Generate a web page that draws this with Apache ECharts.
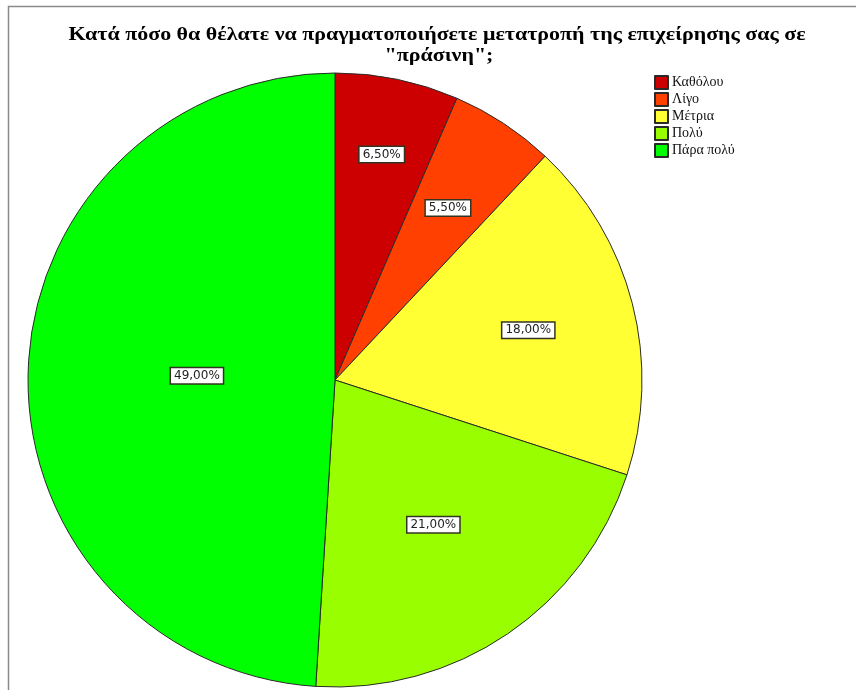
<!DOCTYPE html>
<html>
<head>
<meta charset="utf-8">
<script src="https://cdn.jsdelivr.net/npm/echarts@6/dist/echarts.min.js"></script>
<style>
  html, body { margin: 0; padding: 0; background: #fff; }
  #pie { width: 856px; height: 690px; }
</style>
</head>
<body>
<div id="pie"></div>
<script>
// δεδομένα του γραφήματος
var categories = ['Καθόλου', 'Λίγο', 'Μέτρια', 'Πολύ', 'Πάρα πολύ'];
var percents = [6.5, 5.5, 18.0, 21.0, 49.0];
var colors = ['#cc0000', '#ff4000', '#ffff33', '#99ff00', '#00ff00'];

// θέση της πίτας και απόσταση ετικετών (κλάσμα της ακτίνας)
var cx = 335, cy = 380, radius = 307;
var labelDist = [0.75, 0.67, 0.65, 0.57, 0.45];

var total = 0;
percents.forEach(function (v) { total += v; });

var pieData = [];
categories.forEach(function (name, i) {
  pieData.push({ name: name, value: percents[i], itemStyle: { color: colors[i] } });
});

var titleFont = 'bold 18px "Liberation Serif", serif';

var pie = echarts.init(document.getElementById('pie'));

pie.setOption({
  animation: false,
  graphic: [
    {
      type: 'rect',
      shape: { x: 8.5, y: 6.5, width: 900, height: 800 },
      style: { fill: 'none', stroke: '#8a8a8a', lineWidth: 1.5 },
      silent: true
    },
    {
      type: 'text',
      x: 437, y: 35, scaleX: 1.22,
      style: {
        text: 'Κατά πόσο θα θέλατε να πραγματοποιήσετε μετατροπή της επιχείρησης σας σε',
        font: titleFont, fill: '#000', align: 'center', verticalAlign: 'middle'
      }
    },
    {
      type: 'text',
      x: 439, y: 56, scaleX: 1.22,
      style: {
        text: '"πράσινη";',
        font: titleFont, fill: '#000', align: 'center', verticalAlign: 'middle'
      }
    }
  ],
  legend: {
    orient: 'vertical',
    left: 654,
    top: 75,
    padding: 0,
    icon: 'rect',
    itemWidth: 13,
    itemHeight: 13,
    itemGap: 2,
    textStyle: {
      fontFamily: '"Liberation Serif", serif', fontSize: 14, lineHeight: 13,
      color: '#111', padding: [0, 0, 0, -1]
    },
    data: categories
  },
  series: [
    {
      name: 'Μετατροπή',
      type: 'pie',
      center: [cx, cy],
      radius: [0, radius],
      startAngle: 90,
      clockwise: true,
      data: pieData,
      itemStyle: { borderColor: '#2a2a2a', borderWidth: 1 },
      emphasis: { disabled: true },
      label: {
        show: true,
        position: 'inside',
        formatter: function (p) {
          return percents[p.dataIndex].toFixed(2).replace('.', ',') + '%';
        },
        fontFamily: '"DejaVu Sans", sans-serif',
        fontSize: 12,
        color: '#222',
        backgroundColor: '#fff',
        borderColor: '#333322',
        borderWidth: 1.5,
        padding: [2, 3, 1, 3]
      },
      labelLine: { show: false },
      labelLayout: function (p) {
        var i = p.dataIndex;
        var before = 0;
        for (var k = 0; k < i; k++) before += percents[k];
        var ang = (before + percents[i] / 2) / total * 2 * Math.PI;
        var d = radius * labelDist[i];
        return {
          x: cx + d * Math.sin(ang),
          y: cy - d * Math.cos(ang),
          align: 'center',
          verticalAlign: 'middle'
        };
      }
    }
  ]
});
</script>
</body>
</html>
